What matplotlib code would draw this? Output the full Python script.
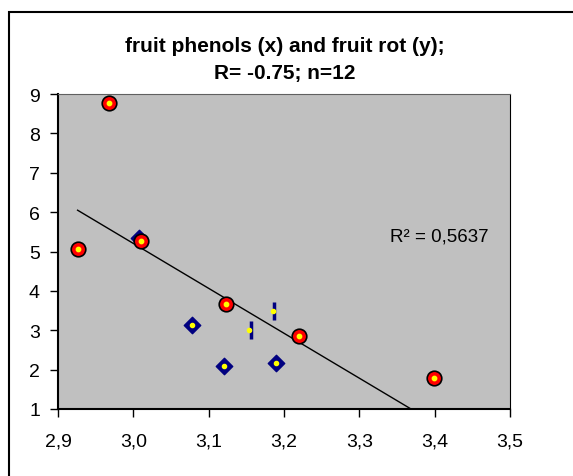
import numpy as np
import matplotlib
matplotlib.use("Agg")
import matplotlib.pyplot as plt
from matplotlib.patches import Rectangle

plt.rcParams['font.family'] = ['Liberation Sans', 'DejaVu Sans']

# red circles
x_circ = [2.926, 2.968, 3.010, 3.123, 3.220, 3.399]
y_circ = [5.06, 8.78, 5.26, 3.67, 2.86, 1.80]
# blue diamonds
x_diam = [3.007, 3.078, 3.120, 3.190]
y_diam = [5.34, 3.13, 2.09, 2.18]
# vertical dash markers
x_dash = [3.156, 3.187]
y_dash = [3.00, 3.50]

x_ticks = [2.9, 3.0, 3.1, 3.2, 3.3, 3.4, 3.5]
y_ticks = [1, 2, 3, 4, 5, 6, 7, 8, 9]

fig = plt.figure(figsize=(5.73, 4.77), dpi=100)
ax = fig.add_axes([58/573, 1-410/477, 452/573, 315/477])
ax.set_facecolor('#C0C0C0')

# trendline over all points
x_all = np.array(x_circ + x_diam + x_dash)
y_all = np.array(y_circ + y_diam + y_dash)
slope, icpt = np.polyfit(x_all, y_all, 1)
xl = np.array([x_all.min(), x_all.max()])
ax.plot(xl, slope*xl + icpt, color='black', lw=1, zorder=2)

ax.scatter(x_diam, y_diam, marker='D', s=70, color='#000080', zorder=3)
ax.scatter(x_diam, y_diam, marker='o', s=9, color='yellow', zorder=4)
ax.scatter(x_dash, y_dash, marker='|', s=170, color='#000080', linewidths=2.5, zorder=3)
ax.scatter(np.array(x_dash)-0.002, y_dash, marker='o', s=9, color='yellow', zorder=4)
ax.scatter(x_circ, y_circ, marker='o', s=110, color='red', edgecolors='black', linewidths=1.2, zorder=5)
ax.scatter(x_circ, y_circ, marker='o', s=10, color='yellow', zorder=6)

ax.set_xlim(2.9, 3.5)
ax.set_ylim(1, 9)
ax.set_xticks(x_ticks)
ax.set_xticklabels([f"{v:.1f}".replace('.', ',') for v in x_ticks])
ax.set_yticks(y_ticks)
ax.tick_params(direction='out', length=6, width=1, labelsize=14, color='black')
ax.tick_params(axis='x', pad=11)
ax.tick_params(axis='y', pad=7)
for s in ['left', 'bottom']:
    ax.spines[s].set_color('black')
    ax.spines[s].set_linewidth(1.5)
ax.spines['top'].set_color('#606060')
ax.spines['right'].set_color('black')

ax.text(3.341, 5.4, "R² = 0,5637", fontsize=13.5, ha='left', va='center')

fig.text(0.497, 1-47/477, "fruit phenols (x) and fruit rot (y);", fontsize=15,
         fontweight='bold', ha='center', va='center')
fig.text(0.497, 1-74/477, "R= -0.75; n=12", fontsize=15,
         fontweight='bold', ha='center', va='center')

fig.patches.append(Rectangle((9/573, -0.05), 1.1, 1-13/477+0.05, transform=fig.transFigure,
                             fill=False, edgecolor='black', lw=1.5))

fig.savefig("out.png", dpi=100)
